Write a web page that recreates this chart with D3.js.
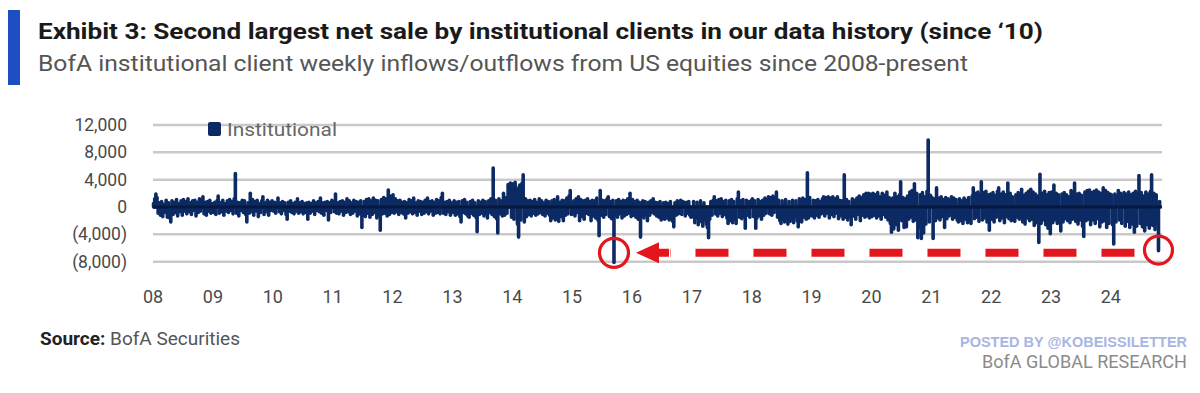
<!DOCTYPE html>
<html>
<head>
<meta charset="utf-8">
<script src="https://cdn.jsdelivr.net/npm/d3@7"></script>
<style>
  html, body { margin: 0; padding: 0; background: #fff; }
  svg { display: block; font-family: Roboto, "Open Sans", sans-serif; }
</style>
</head>
<body>
<svg width="1200" height="393"></svg>
<script>
// weekly net flows, $bn (one value per week)
const y2008 = [0.5,1.2,1.9,1.4,-0.9,0.6,-1.2,0.8,-1.4,0.4,-0.8,1.0,-1.5,0.6,-1.6,-2.2,0.9,-1.1,0.7,-0.8,1.1,-1.3,0.5,-0.7,0.9,-1.2,1.1,-0.6,0.8,-1.0,1.2,-0.7,0.6,-1.1,0.9,-0.5,1.0,-1.3,0.7,-0.8,1.2,-0.6,0.9,1.5,-1.0,0.7,-1.2,0.8,-0.6,1.0,-0.9,0.5];
const y2009 = [-0.8,0.7,-1.1,0.9,1.6,-0.9,0.6,-0.7,1.0,-1.2,0.5,-0.6,0.9,-0.8,1.1,-0.5,0.8,-1.0,1.2,4.9,-0.9,0.7,-1.3,0.6,-0.5,1.0,-0.8,0.9,-1.1,-2.2,0.6,-0.9,2.0,-0.7,1.1,-1.2,0.8,-0.6,1.0,-1.4,0.5,-0.8,0.9,1.5,-1.1,0.6,-0.7,1.0,-1.2,0.7,-0.5,0.9];
const y2010 = [-0.6,0.7,-0.9,0.5,1.3,-0.7,0.6,-1.0,0.8,-0.5,0.6,-1.1,-1.8,0.7,-0.6,0.9,-0.8,0.5,-1.0,0.7,-0.6,1.2,-0.9,0.6,-0.7,0.8,-1.0,0.5,-0.8,0.6,-1.8,0.7,-0.9,0.5,-0.6,0.9,-1.1,0.6,-0.5,0.8,-0.7,1.3,-0.9,0.6,-1.2,0.7,-0.5,0.8,-1.9,0.6,-0.8,1.0];
const y2011 = [0.8,-0.7,1.9,-0.9,0.6,-1.0,0.8,-0.6,0.9,-1.2,0.7,-0.8,1.2,-0.7,0.9,-1.1,0.6,-0.9,1.0,-0.6,0.8,-1.3,0.7,-1.0,0.9,-3.0,-1.2,0.8,-1.4,1.1,-0.9,1.2,-1.5,0.9,-1.1,1.3,-0.8,1.0,-1.6,0.9,-1.2,-3.4,1.1,-1.0,1.4,-0.9,1.2,-1.3,2.5,-1.1,1.6,-0.8];
const y2012 = [1.8,-0.9,1.2,-0.7,0.9,-1.1,1.0,-0.8,0.7,-1.0,0.8,-1.6,0.6,-0.9,1.1,-0.7,0.9,-1.0,1.3,-0.8,0.6,-1.2,0.9,-0.6,0.8,-1.1,0.7,-0.9,1.0,-0.7,1.3,-1.0,0.8,-0.6,0.9,-1.2,0.7,-0.9,1.1,-0.8,0.9,-1.0,1.4,2.0,-0.9,0.7,-1.1,0.8,-0.7,1.0,-1.2,0.6];
const y2013 = [-0.8,0.9,-1.2,0.7,-1.0,0.8,-1.4,-2.2,0.9,-0.8,1.1,-1.0,0.7,-1.3,-1.5,0.8,-0.9,1.0,-1.2,0.6,-1.5,-3.6,0.9,-1.1,0.7,-0.9,1.0,-1.3,0.8,-1.0,-1.6,0.9,-0.8,1.2,-1.1,5.7,-1.4,1.0,-1.7,-3.8,1.2,-1.0,0.9,-1.3,2.0,-1.2,1.4,-0.9,3.3,2.6,3.5,-1.5];
const y2014 = [3.4,-1.8,3.6,2.8,-2.5,-4.4,3.2,-1.9,3.5,4.7,-2.2,1.2,-1.4,0.9,-1.1,1.0,-1.3,0.8,-0.9,1.1,-1.2,0.7,-1.0,1.2,-0.8,0.9,-1.1,0.6,-1.3,1.0,-0.9,0.8,-1.2,-2.0,0.9,-1.6,1.1,-1.9,0.8,1.5,-2.1,0.7,-1.4,1.0,-2.0,0.9,-1.2,1.3,-1.0,1.6,2.4,-1.1];
const y2015 = [-1.0,0.9,-1.3,1.2,-0.8,1.5,-2.0,1.1,-1.4,0.9,-1.8,1.0,-0.9,1.2,-1.1,0.8,-2.0,1.0,-1.3,0.9,-1.6,1.3,-1.9,-4.2,2.4,-1.2,1.0,-1.5,0.9,-1.1,1.2,1.5,-1.4,0.8,-1.7,1.0,-8.1,-1.2,0.9,-1.5,1.1,-1.0,0.8,-1.6,1.0,-1.3,0.9,-1.1,1.2,-0.9,2.0,-1.4];
const y2016 = [1.1,-1.2,0.8,-1.5,1.0,-1.8,0.7,-4.4,-1.3,0.9,-1.6,0.8,-1.1,-2.0,0.7,-1.2,0.9,-0.8,1.2,-1.0,0.7,-1.3,0.6,-1.5,0.8,-1.9,-1.4,0.6,-1.8,0.7,-1.6,0.5,-1.9,0.8,-1.4,-2.1,-2.9,0.6,-1.2,0.9,-1.0,0.7,1.0,-1.1,0.8,0.6,-1.3,0.7,-0.9,0.8,-1.2,-1.5];
const y2017 = [-1.4,0.8,-2.3,-1.6,0.7,-2.6,-1.2,0.9,-2.2,-2.8,0.6,-1.9,-2.5,-3.0,-4.5,-1.8,0.8,-1.2,1.0,1.5,-1.0,0.9,-1.3,1.1,-0.9,1.2,-1.4,0.8,-1.1,1.0,-1.6,-2.4,0.9,-2.0,1.1,-2.3,0.8,-1.8,-2.4,1.2,2.2,-1.5,0.9,-1.7,1.1,-1.4,-3.1,1.0,-1.2,0.8,-1.5,0.9];
const y2018 = [1.2,-1.4,0.9,-3.1,-1.6,1.1,-1.3,0.8,-1.8,1.0,-1.2,1.3,-0.9,1.1,1.5,-1.0,1.4,-1.2,1.6,-0.8,1.3,2.2,-1.5,1.0,-2.0,-2.4,0.9,-1.8,-2.2,1.1,-1.9,-2.5,0.8,-2.1,-1.6,1.0,-2.3,-1.4,0.9,-2.0,-2.9,1.2,-1.7,-2.2,1.3,-1.5,1.1,-1.8,5.0,-1.6,1.4,-1.2];
const y2019 = [-1.3,1.0,-1.6,0.9,-1.2,1.1,-1.5,0.8,-1.0,1.2,1.5,-1.3,1.4,-0.9,1.5,-1.6,1.3,-1.1,1.5,-1.4,1.2,-0.9,1.5,-1.7,1.0,-1.3,0.9,-1.8,4.7,-1.5,1.1,-1.9,0.8,-1.4,-2.6,1.2,-1.3,1.0,-1.8,1.3,-1.1,1.6,-2.0,1.4,-1.2,1.8,-1.5,2.0,-1.3,2.0,-1.6,1.9];
const y2020 = [-1.4,2.0,-1.2,1.8,-1.6,2.1,-1.3,1.5,-1.8,2.0,-1.1,1.7,-1.5,2.2,-1.9,1.4,-2.4,-3.7,1.3,-3.2,2.0,-2.6,1.5,-3.4,1.8,3.7,-2.0,1.4,-3.0,1.2,-2.9,1.6,-1.8,2.2,-1.5,2.4,-2.1,3.4,-1.9,2.0,-4.5,-3.0,1.8,-4.6,2.1,-3.8,1.5,-2.5,2.3,9.8,-2.2,1.7];
const y2021 = [1.4,-4.6,1.2,-2.0,2.8,-1.6,1.3,-1.9,1.5,-1.4,1.1,-3.0,1.4,-1.7,1.2,-1.3,1.0,1.5,-1.8,1.3,-1.5,1.1,-1.9,-2.2,1.2,-2.0,0.9,-2.4,1.3,-1.8,1.0,-2.3,1.4,-2.0,-2.4,1.6,2.8,-1.7,2.0,-1.5,2.2,-2.1,1.8,3.7,-1.9,2.1,-1.6,2.3,-2.2,1.8,-3.4,1.9];
const y2022 = [-1.8,2.1,-2.2,1.7,-1.5,2.3,2.8,-2.0,1.9,-1.6,2.2,-2.3,1.8,-1.4,3.5,-1.7,2.0,-2.0,1.5,-1.9,-2.1,1.8,-1.5,2.1,-1.8,1.9,2.6,-2.2,1.7,-2.5,2.0,-1.6,2.3,-2.0,2.6,-1.8,2.2,-2.7,1.9,-2.3,1.6,-5.2,4.8,-2.4,2.0,-1.9,2.3,-2.6,1.8,-3.1,2.1,-3.9];
const y2023 = [2.2,-2.3,3.2,-1.9,2.0,-2.4,1.8,-2.1,-3.5,1.9,-2.2,2.1,-1.7,1.8,-2.0,1.5,-2.3,2.4,-1.8,2.2,3.5,-2.1,1.9,-2.5,2.0,-1.9,1.7,-2.8,-4.3,2.2,-2.0,2.4,-1.8,2.5,-2.6,2.1,-1.9,2.3,-2.4,2.5,-1.7,2.2,-2.9,2.0,-2.2,2.8,-2.0,2.4,-3.0,2.1,-2.4,1.9];
const y2024 = [1.8,-2.6,-5.4,1.9,-2.2,1.6,2.4,-1.9,2.0,-2.4,1.7,2.1,-2.8,1.9,-2.1,2.2,-3.0,1.8,-2.5,2.0,-3.7,2.3,-2.8,1.9,4.6,-2.4,2.1,-2.9,1.6,-3.5,2.2,-2.6,1.9,-3.1,2.3,4.7,-2.7,2.0,-3.3,1.8,-2.5,-6.4,0.8];

const years = d3.range(2008, 2025);
const flows = [y2008, y2009, y2010, y2011, y2012, y2013, y2014, y2015, y2016,
  y2017, y2018, y2019, y2020, y2021, y2022, y2023, y2024];
const yTicks = [12000, 8000, 4000, 0, -4000, -8000];
const seriesName = 'Institutional';

const data = years.flatMap((yr, k) =>
  flows[k].map((v, i) => ({ date: new Date(yr, 0, 1 + 7 * i), value: v * 1000 })));

const svg = d3.select('svg');
const navy = '#0c2a64';
const red = '#e3161d';

// header
svg.append('rect').attr('x', 8).attr('y', 10).attr('width', 12).attr('height', 75).attr('fill', '#1d4fc1');
svg.append('text').attr('x', 38).attr('y', 39)
  .attr('font-size', 22.5).attr('font-weight', 700).attr('fill', '#1a1a1a')
  .attr('textLength', 1005).attr('lengthAdjust', 'spacingAndGlyphs')
  .text('Exhibit 3: Second largest net sale by institutional clients in our data history (since \u201810)');
svg.append('text').attr('x', 38).attr('y', 71)
  .attr('font-size', 21.5).attr('fill', '#555')
  .attr('textLength', 930).attr('lengthAdjust', 'spacingAndGlyphs')
  .text('BofA institutional client weekly inflows/outflows from US equities since 2008-present');

// scales
const x = d3.scaleTime()
  .domain([new Date(2008, 0, 1), new Date(2024, 10, 8)])
  .range([153, 1162]);
const y = d3.scaleLinear().domain([-8000, 12000]).range([261.7, 125]);

// grid
svg.append('g').selectAll('line').data(yTicks.filter(t => t !== 0)).join('line')
  .attr('x1', 153).attr('x2', 1162)
  .attr('y1', d => y(d)).attr('y2', d => y(d))
  .attr('stroke', '#c9c9c9').attr('stroke-width', 2.5);

// y axis labels
const fmt = d3.format(',');
svg.append('g').selectAll('text').data(yTicks).join('text')
  .attr('x', 127).attr('y', d => y(d)).attr('dy', '0.35em')
  .attr('text-anchor', 'end').attr('font-size', 17.5).attr('fill', '#4a4a4a')
  .text(d => d < 0 ? `(${fmt(-d)})` : fmt(d));

// x axis labels
svg.append('g').selectAll('text').data(years).join('text')
  .attr('x', d => x(new Date(d, 0, 1))).attr('y', 297).attr('dy', '0.35em')
  .attr('text-anchor', 'middle').attr('font-size', 18).attr('fill', '#4a4a4a')
  .text(d => d3.timeFormat('%y')(new Date(d, 0, 1)));

// bars (thick round-capped strokes, like the blurred columns of the original)
const bw = x(new Date(2008, 0, 8)) - x(new Date(2008, 0, 1));
svg.append('g').selectAll('line').data(data).join('line')
  .attr('x1', d => x(d.date) + bw / 2).attr('x2', d => x(d.date) + bw / 2)
  .attr('y1', y(0))
  .attr('y2', d => y(d.value))
  .attr('stroke', navy).attr('stroke-width', 3.6)
  .attr('stroke-linecap', 'round');

// zero line
svg.append('line').attr('x1', 153).attr('x2', 1162).attr('y1', y(0)).attr('y2', y(0))
  .attr('stroke', '#071a3e').attr('stroke-width', 3);

// legend
svg.append('rect').attr('x', 208).attr('y', 122).attr('width', 13).attr('height', 14)
  .attr('rx', 2).attr('fill', navy);
svg.append('text').attr('x', 227).attr('y', 130).attr('dy', '0.35em')
  .attr('font-size', 17.5).attr('fill', '#666')
  .attr('textLength', 110).attr('lengthAdjust', 'spacingAndGlyphs')
  .text(seriesName);

// annotations
const lowest = d3.least(data, d => d.value);
const latest = d3.least(data.filter(d => d.date.getFullYear() === 2024), d => d.value);
const lvl = y(-6700);
const cx1 = x(lowest.date) + bw / 2;
const cx2 = x(latest.date) + bw / 2;
const ann = svg.append('g');
ann.append('circle').attr('cx', cx1).attr('cy', lvl).attr('r', 14.5)
  .attr('fill', 'none').attr('stroke', red).attr('stroke-width', 3.2);
ann.append('circle').attr('cx', cx2).attr('cy', y(-6300)).attr('r', 14)
  .attr('fill', 'none').attr('stroke', red).attr('stroke-width', 3.2);
ann.append('line').attr('x1', cx2 - 24).attr('x2', cx1 + 56)
  .attr('y1', lvl).attr('y2', lvl)
  .attr('stroke', red).attr('stroke-width', 8).attr('stroke-dasharray', '33 25');
const tip = cx1 + 22;
ann.append('path')
  .attr('d', `M${tip},${lvl} L${tip + 23},${lvl - 10.5} L${tip + 23},${lvl - 4} L${tip + 33},${lvl - 4}
    L${tip + 33},${lvl + 4} L${tip + 23},${lvl + 4} L${tip + 23},${lvl + 10.5} Z`)
  .attr('fill', red);

// footer
const src = svg.append('text').attr('x', 40).attr('y', 345).attr('font-size', 18)
  .attr('textLength', 200).attr('lengthAdjust', 'spacingAndGlyphs');
src.append('tspan').attr('font-weight', 700).attr('fill', '#222').text('Source:');
src.append('tspan').attr('fill', '#555').text(' BofA Securities');
svg.append('text').attr('x', 1187).attr('y', 347).attr('text-anchor', 'end')
  .attr('font-size', 14).attr('font-weight', 700).attr('fill', '#a7b5e3')
  .attr('font-family', '"Liberation Sans", Arial, sans-serif')
  .attr('textLength', 227).attr('lengthAdjust', 'spacingAndGlyphs')
  .text('POSTED BY @KOBEISSILETTER');
svg.append('text').attr('x', 1187).attr('y', 368).attr('text-anchor', 'end')
  .attr('font-size', 19).attr('fill', '#8a8a8a')
  .attr('textLength', 205).attr('lengthAdjust', 'spacingAndGlyphs')
  .text('BofA GLOBAL RESEARCH');
</script>
</body>
</html>
